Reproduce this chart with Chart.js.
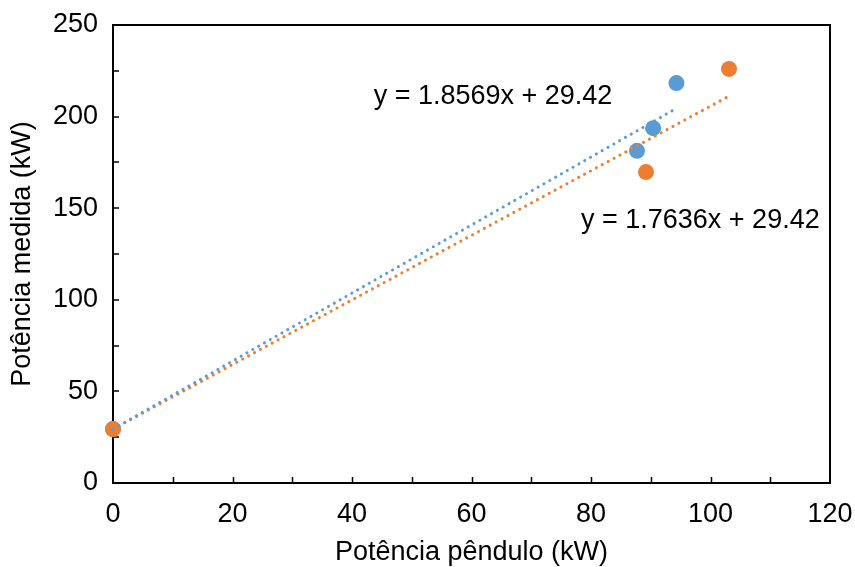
<!DOCTYPE html>
<html>
<head>
<meta charset="utf-8">
<script src="https://cdn.jsdelivr.net/npm/chart.js@4/dist/chart.umd.min.js"></script>
<style>
html,body{margin:0;padding:0;background:#fff;}
#wrap{width:855px;height:567px;position:relative;}
</style>
</head>
<body>
<div id="wrap"><canvas id="c" width="855" height="567"></canvas></div>
<script>
// Data
const blueX = [0, 87.7, 90.4, 94.3];
const blueY = [29.42, 181.3, 193.7, 218.3];
const orangeX = [0, 89.2, 103.1];
const orangeY = [29.42, 169.7, 226.0];
// Trendline end points (from the displayed equations)
const blueTrendX = [0, 94.3];
const blueTrendY = [29.42, 204.5];
const orangeTrendX = [0, 103.1];
const orangeTrendY = [29.42, 211.2];
const blueLabel = 'y = 1.8569x + 29.42';
const orangeLabel = 'y = 1.7636x + 29.42';
const xTitle = 'Potência pêndulo (kW)';
const yTitle = 'Potência medida (kW)';

const BLUE = '#5B9BD5', ORANGE = '#ED7D31';
const FONT = "'Liberation Sans', Arial, sans-serif";
const FS = 27;

function pts(xs, ys){ return xs.map((x,i)=>({x:x, y:ys[i]})); }

const boxPlugin = {
  id:'box',
  beforeDatasetsDraw(chart){
    const {ctx, chartArea:a, scales} = chart;
    ctx.save();
    ctx.strokeStyle = '#000';
    ctx.beginPath();
    for (let v = 10; v < 120; v += 10) {
      const px = Math.round(scales.x.getPixelForValue(v)) + 0.5;
      ctx.moveTo(px, a.bottom); ctx.lineTo(px, a.bottom - 6);
    }
    for (let v = 25; v < 250; v += 25) {
      const py = Math.round(scales.y.getPixelForValue(v));
      ctx.moveTo(a.left, py); ctx.lineTo(a.left + 6, py);
    }
    ctx.lineWidth = 1.5;
    ctx.stroke();
    ctx.lineWidth = 2;
    ctx.strokeRect(a.left, a.top, a.right - a.left, a.bottom - a.top);
    ctx.restore();
  },
  afterDatasetsDraw(chart){
    const {ctx, scales} = chart;
    ctx.save();
    ctx.fillStyle = '#000';
    ctx.font = FS + 'px ' + FONT;
    ctx.textAlign = 'center';
    ctx.textBaseline = 'middle';
    ctx.fillText(blueLabel, scales.x.getPixelForValue(63.6), scales.y.getPixelForValue(211.0));
    ctx.fillText(orangeLabel, scales.x.getPixelForValue(98.3), scales.y.getPixelForValue(143.5));
    ctx.restore();
  }
};

new Chart(document.getElementById('c'), {
  type: 'scatter',
  data: {
    datasets: [
      { data: pts(blueTrendX, blueTrendY), showLine: true, borderColor: BLUE, borderWidth: 3,
        borderDash: [0.1, 6.6], borderCapStyle: 'round', pointRadius: 0, fill: false, clip: false },
      { data: pts(orangeTrendX, orangeTrendY), showLine: true, borderColor: ORANGE, borderWidth: 3,
        borderDash: [0.1, 6.6], borderCapStyle: 'round', pointRadius: 0, fill: false, clip: false },
      { data: pts(orangeX, orangeY), backgroundColor: ORANGE, borderColor: ORANGE, borderWidth: 0, pointRadius: 8, clip: false },
      { data: pts(blueX, blueY), backgroundColor: BLUE, borderColor: BLUE, borderWidth: 0, pointRadius: 8, clip: false }
    ]
  },
  options: {
    responsive: false,
    animation: false,
    layout: { padding: { top: 25, right: 25, left: 0, bottom: 0 } },
    plugins: { legend: { display: false }, tooltip: { enabled: false } },
    scales: {
      x: {
        type: 'linear', min: 0, max: 120,
        ticks: { stepSize: 20, color: '#000', font: { family: FONT, size: FS }, padding: 15, maxRotation: 0 },
        grid: { display: false, drawTicks: false },
        border: { display: false },
        title: { display: true, text: xTitle, color: '#000', font: { family: FONT, size: FS }, padding: { top: 0, bottom: -2 } },
        afterFit(s){ s.height = 84; s.paddingLeft = 0; s.paddingRight = 0; }
      },
      y: {
        type: 'linear', min: 0, max: 250,
        ticks: { stepSize: 50, color: '#000', font: { family: FONT, size: FS }, padding: 15 },
        grid: { display: false, drawTicks: false },
        border: { display: false },
        title: { display: true, text: yTitle, color: '#000', font: { family: FONT, size: FS }, padding: { top: 6, bottom: 0 } },
        afterFit(s){ s.width = 113; s.paddingTop = 0; s.paddingBottom = 0; }
      }
    }
  },
  plugins: [boxPlugin]
});
</script>
</body>
</html>
